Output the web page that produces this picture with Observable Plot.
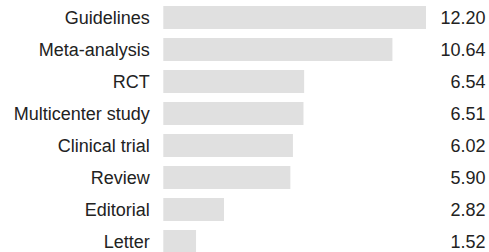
<!DOCTYPE html>
<html>
<head>
<meta charset="utf-8">
<script src="https://cdn.jsdelivr.net/npm/d3@7"></script>
<script src="https://cdn.jsdelivr.net/npm/@observablehq/plot@0.6"></script>
<style>
  html, body { margin: 0; padding: 0; background: #fff; }
</style>
</head>
<body>
<div id="chart"></div>
<script>
const categories = ["Guidelines", "Meta-analysis", "RCT", "Multicenter study", "Clinical trial", "Review", "Editorial", "Letter"];
const values = [12.20, 10.64, 6.54, 6.51, 6.02, 5.90, 2.82, 1.52];
const valueLabels = ["12.20", "10.64", "6.54", "6.51", "6.02", "5.90", "2.82", "1.52"];

const data = categories.map((c, i) => ({category: c, value: values[i], label: valueLabels[i]}));

const chart = Plot.plot({
  width: 489,
  height: 252,
  marginLeft: 163,
  marginRight: 4,
  marginTop: 0,
  marginBottom: 0,
  style: {fontFamily: "'Liberation Sans', Arial, Helvetica, sans-serif", fontSize: "18px", background: "#fff"},
  x: {domain: [0, 12.2], range: [163.3, 426], axis: null},
  y: {domain: categories, range: [-2.7, 262.8], padding: 0.27, axis: null},
  marks: [
    Plot.barX(data, {x: "value", y: "category", fill: "#e0e0e0"}),
    Plot.text(data, {x: 0, y: "category", text: "category", textAnchor: "end", dx: -14, fontSize: 18, fill: "#222"}),
    Plot.text(data, {y: "category", text: "label", frameAnchor: "right", textAnchor: "end", fontSize: 18, fill: "#222"})
  ]
});
document.getElementById("chart").appendChild(chart);
</script>
</body>
</html>
